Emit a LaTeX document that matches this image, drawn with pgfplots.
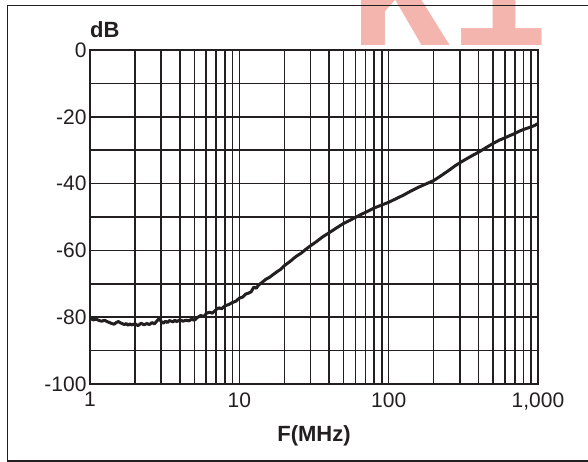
\documentclass[border=0pt]{standalone}
\usepackage{pgfplots}
\pgfplotsset{compat=1.18}
\usepackage{fontspec}
\setmainfont{Liberation Sans}
\newfontfamily\wmfont{Liberation Mono}
\definecolor{ink}{HTML}{231F20}
\definecolor{wm}{HTML}{F4B5AE}

\begin{document}
\begin{tikzpicture}[x=1pt,y=1pt]
\useasboundingbox (0,0) rectangle (588,462);
% watermark, cut by the top edge as in the reference
\node[anchor=base west, inner sep=0, text=wm,
      font=\wmfont\bfseries\fontsize{166}{166}\selectfont] at (350,416) {K1};
% frame
\draw[ink, line width=1.4pt] (7.5,1) rectangle (600,456.5);
\begin{axis}[
    at={(90pt,78pt)}, anchor=south west,
    scale only axis, width=448pt, height=334pt,
    xmode=log, log basis x=10,
    xmin=1, xmax=1000, ymin=-100, ymax=0,
    xtick={1,10,100,1000}, xticklabels={1,10,100,{1,000}},
    minor xtick={2,3,4,5,6,7,8,9,20,30,40,50,60,70,80,90,200,300,400,500,600,700,800,900},
    ytick={-100,-80,-60,-40,-20,0}, yticklabels={-100,-80,-60,-40,-20,0},
    minor ytick={-90,-70,-50,-30,-10},
    xmajorgrids, xminorgrids, ymajorgrids, yminorgrids,
    major grid style={ink, line width=1.5pt},
    minor grid style={ink, line width=1.5pt},
    axis line style={ink, line width=1.5pt},
    major tick length=0pt, minor tick length=0pt,
    tick label style={font=\fontsize{21}{21}\selectfont, text=ink},
    xticklabel style={yshift=-5pt},
    clip=false,
]
\addplot[ink, line width=3pt, line join=round] table {
1 -80.3
1.05 -80.8
1.1 -80.6
1.15 -81.0
1.2 -81.2
1.25 -80.9
1.3 -81.3
1.35 -81.6
1.4 -81.9
1.45 -82.1
1.5 -81.6
1.55 -81.3
1.6 -81.7
1.7 -82.2
1.75 -81.9
1.8 -82.4
1.85 -82.0
1.9 -82.3
2.0 -82.0
2.1 -82.5
2.2 -81.8
2.3 -82.3
2.4 -81.9
2.5 -82.2
2.6 -81.6
2.7 -82.0
2.8 -81.2
2.9 -80.4
3.0 -81.3
3.1 -81.8
3.2 -81.2
3.3 -81.6
3.4 -81.0
3.6 -81.4
3.7 -80.9
3.8 -81.3
4.0 -80.8
4.2 -81.2
4.4 -80.9
4.6 -81.1
4.8 -80.6
5.0 -80.9
5.2 -80.2
5.5 -79.5
5.8 -79.8
6.0 -78.9
6.3 -78.5
6.6 -78.8
7.0 -77.7
7.3 -77.2
7.6 -77.5
8.0 -76.6
8.5 -76.2
9.0 -75.6
9.5 -75.2
10 -74.3
10.5 -74.0
11 -73.1
11.5 -72.8
12 -72.4
12.5 -71.0
13 -71.3
13.5 -70.3
14 -69.8
15 -68.7
16 -68.0
17 -67.1
18 -66.3
19 -65.6
20 -64.6
22 -63.2
24 -61.8
26 -60.8
28 -59.6
30 -58.6
33 -57.3
36 -56.0
40 -54.7
45 -53.2
50 -51.9
55 -51.0
60 -50.1
65 -49.3
70 -48.6
80 -47.3
90 -46.4
100 -45.6
110 -44.7
125 -43.5
140 -42.3
160 -41.0
180 -40.0
200 -39.1
220 -37.9
250 -36.2
280 -34.6
320 -33.0
360 -31.7
400 -30.6
450 -29.2
500 -28.0
550 -27.0
600 -26.3
650 -25.6
700 -25.0
750 -24.3
800 -23.8
850 -23.4
900 -23.0
950 -22.6
1000 -22.0
};
\node[anchor=base west, inner sep=0, text=ink, font=\bfseries\fontsize{22}{22}\selectfont]
    at (rel axis cs:0,1) [yshift=12pt] {dB};
\node[anchor=base, inner sep=0, text=ink, font=\bfseries\fontsize{22}{22}\selectfont]
    at (rel axis cs:0.5,0) [yshift=-58pt] {F(MHz)};
\end{axis}
\end{tikzpicture}
\end{document}
